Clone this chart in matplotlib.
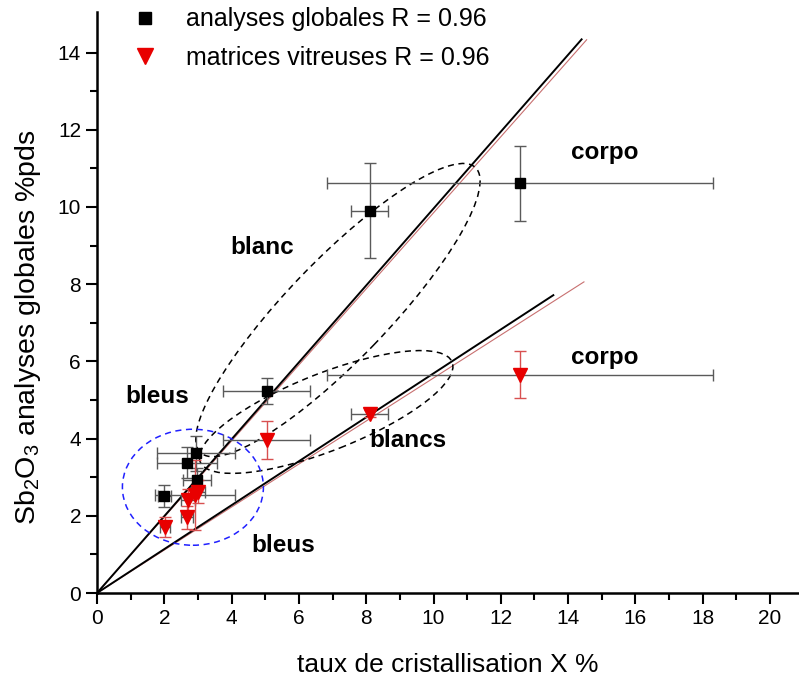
import numpy as np
import matplotlib.pyplot as plt
from matplotlib.lines import Line2D
from matplotlib.patches import Ellipse
from matplotlib.transforms import ScaledTranslation

plt.rcParams['font.family'] = ['Liberation Sans', 'DejaVu Sans']
plt.rcParams['mathtext.default'] = 'regular'

# Données : analyses globales (carrés noirs)
x_glob = [2.00, 2.68, 2.94, 2.98, 5.04, 8.11, 12.57]
y_glob = [2.51, 3.38, 3.62, 2.94, 5.23, 9.90, 10.61]
xerr_glob = [0.20, 0.90, 1.16, 0.42, 1.30, 0.55, 5.74]
yerr_glob = [0.28, 0.40, 0.45, 0.30, 0.33, 1.23, 0.97]

# Données : matrices vitreuses (triangles rouges)
x_vit = [2.02, 2.68, 2.71, 2.92, 3.00, 5.04, 8.11, 12.57]
y_vit = [1.70, 1.96, 2.40, 2.54, 2.62, 3.96, 4.65, 5.65]
xerr_vit = [0.15, 0.17, 0.20, 1.19, 0.20, 1.30, 0.55, 5.74]
yerr_vit = [0.26, 0.30, 0.30, 0.90, 0.30, 0.49, 0.10, 0.61]

# Droites de régression (passant par l'origine)
pente_noir = [0.996, 0.569]
xmax_noir = [14.40, 13.56]
pente_rouge = [0.985, 0.557]
xmax_rouge = [14.55, 14.47]

gris = '#5a5a5a'
rouge = '#e80000'
rouge_err = '#d85050'

fig = plt.figure(figsize=(7.99, 6.84), dpi=100)
ax = fig.add_axes([0.1214, 0.1330, 0.8786, 0.8494])

# Droites
for p, xm in zip(pente_rouge, xmax_rouge):
    xx = np.array([0, xm])
    ax.plot(xx, p * xx, color='#c87070', lw=0.8, zorder=2)
for p, xm in zip(pente_noir, xmax_noir):
    xx = np.array([0, xm])
    ax.plot(xx, p * xx, color='black', lw=1.4, zorder=3)

# Barres d'erreur
ax.errorbar(x_glob, y_glob, xerr=xerr_glob, fmt='none', ecolor=gris, elinewidth=1.0, capsize=4.3, capthick=1.0, zorder=4)
ax.errorbar(x_glob, y_glob, yerr=yerr_glob, fmt='none', ecolor=gris, elinewidth=1.0, capsize=4.3, capthick=1.0, zorder=4)
ax.errorbar(x_vit, y_vit, xerr=xerr_vit, fmt='none', ecolor=gris, elinewidth=1.0, capsize=4.3, capthick=1.0, zorder=4)
ax.errorbar(x_vit, y_vit, yerr=yerr_vit, fmt='none', ecolor=rouge_err, elinewidth=1.0, capsize=4.3, capthick=1.0, zorder=4)

# Points
ax.plot(x_glob, y_glob, 's', color='black', ms=7, zorder=5, ls='none')
ax.plot(x_vit, y_vit, 'v', color=rouge, ms=10.5, zorder=6, ls='none')

# Ellipses (taille en pouces, centre en coordonnées des données)
def ellipse(cx, cy, w, h, ang, couleur):
    tr = fig.dpi_scale_trans + ScaledTranslation(cx, cy, ax.transData)
    e = Ellipse((0, 0), w, h, angle=ang, transform=tr, fill=False,
                edgecolor=couleur, lw=1.1, ls=(0, (4, 3)), zorder=3)
    ax.add_patch(e)

ellipse(7.16, 7.33, 3.96, 1.00, 46, 'black')
ellipse(6.81, 4.69, 2.71, 0.77, 21.6, 'black')
ellipse(2.85, 2.74, 1.41, 1.16, 0, '#2020ff')

# Étiquettes
txt = dict(fontsize=17.5, fontweight='bold', ha='center', va='center')
ax.text(15.1, 11.42, 'corpo', **txt)
ax.text(15.1, 6.11, 'corpo', **txt)
ax.text(4.9, 8.94, 'blanc', **txt)
ax.text(1.78, 5.08, 'bleus', **txt)
ax.text(9.24, 3.96, 'blancs', **txt)
ax.text(5.53, 1.22, 'bleus', **txt)

# Axes
ax.set_xlim(0, 20.86)
ax.set_ylim(0, 15.05)
ax.set_xticks(np.arange(0, 21, 2))
ax.set_xticks(np.arange(1, 21, 2), minor=True)
ax.set_yticks(np.arange(0, 15, 2))
ax.set_yticks(np.arange(1, 15, 2), minor=True)
for s in ['top', 'right']:
    ax.spines[s].set_visible(False)
for s in ['left', 'bottom']:
    ax.spines[s].set_linewidth(1.8)
ax.tick_params(which='major', direction='out', length=8, width=1.5, labelsize=15)
ax.tick_params(which='minor', direction='out', length=5, width=1.5)
ax.set_xlabel('taux de cristallisation X %', fontsize=19, labelpad=18)
ax.set_ylabel(r'Sb$_2$O$_3$ analyses globales %pds', fontsize=20.5)
ax.yaxis.set_label_coords(-0.077, 0.458)

# Légende
h1 = Line2D([], [], marker='s', color='black', ls='none', ms=8.5)
h2 = Line2D([], [], marker='v', color=rouge, ls='none', ms=11)
ax.legend([h1, h2], ['analyses globales R = 0.96', 'matrices vitreuses R = 0.96'],
          loc='upper left', bbox_to_anchor=(117 / 799, 1.011), bbox_transform=fig.transFigure,
          frameon=False, fontsize=18, handlelength=1.0, handletextpad=1.18,
          labelspacing=0.58, borderpad=0.1)

fig.savefig('out.png', dpi=100)
